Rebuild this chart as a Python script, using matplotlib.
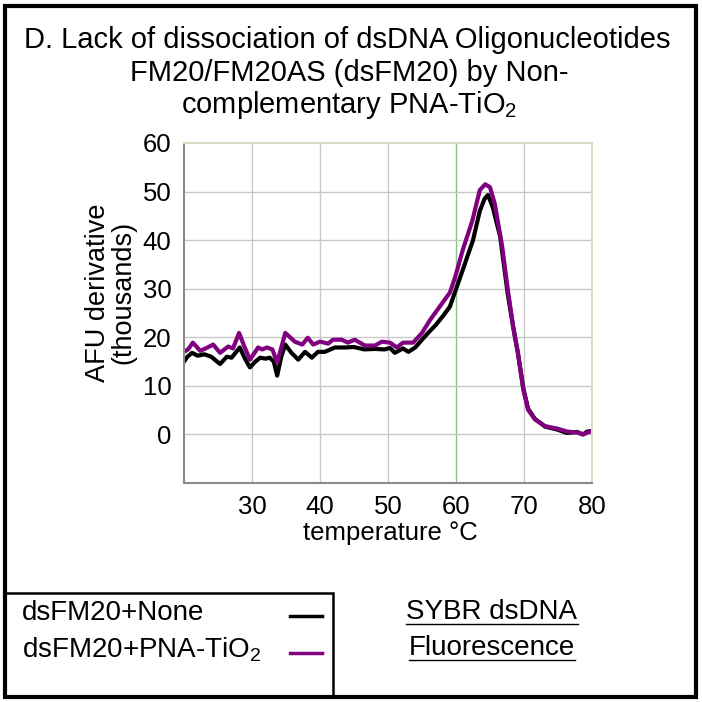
import matplotlib
matplotlib.use('Agg')
import matplotlib.pyplot as plt
from matplotlib.lines import Line2D
from matplotlib.patches import Rectangle

plt.rcParams['font.family'] = ['Liberation Sans', 'DejaVu Sans']
plt.rcParams['mathtext.fontset'] = 'custom'
plt.rcParams['mathtext.rm'] = 'Liberation Sans'
plt.rcParams['mathtext.it'] = 'Liberation Sans:italic'

# dsFM20 + None (black)
temp_none = [20.0, 20.5, 21.2, 22.0, 23.0, 24.0, 25.3, 26.3, 27.0, 28.2, 29.0, 29.7,
             30.5, 31.2, 32.0, 32.6, 33.2, 33.7, 34.3, 34.9, 35.8, 36.8, 37.8, 38.8,
             39.7, 40.7, 42.2, 43.7, 45.0, 46.5, 48.0, 49.5, 50.3, 51.0, 52.2, 53.0,
             54.0, 55.0, 55.9, 57.0, 58.1, 59.1, 59.9, 61.0, 62.5, 63.5, 64.2, 64.7,
             65.4, 66.5, 67.6, 68.4, 69.1, 69.9, 70.6, 71.6, 73.1, 74.9, 76.3, 77.8,
             78.7, 79.3, 80.0]
afu_none = [15.0, 16.0, 16.8, 16.2, 16.5, 16.0, 14.5, 16.0, 15.8, 17.9, 15.5, 13.8,
            15.0, 15.8, 15.6, 15.8, 15.0, 12.1, 16.0, 18.5, 16.8, 15.4, 17.0, 15.8,
            17.0, 17.0, 17.9, 17.9, 18.0, 17.5, 17.6, 17.5, 17.8, 16.8, 17.7, 17.0,
            17.9, 19.5, 20.9, 22.5, 24.4, 26.3, 29.5, 33.9, 40.0, 46.0, 48.5, 49.3,
            46.8, 40.7, 29.0, 22.2, 16.8, 9.5, 5.3, 3.2, 1.6, 1.0, 0.3, 0.5,
            0.0, 0.6, 0.7]

# dsFM20 + PNA-TiO2 (purple)
temp_pna = [20.0, 20.6, 21.3, 22.4, 23.3, 24.3, 25.3, 26.5, 27.2, 28.1, 28.9, 29.7,
            30.9, 31.5, 32.2, 33.0, 33.7, 34.9, 36.3, 37.4, 38.2, 39.0, 40.0, 41.2,
            41.9, 43.2, 44.1, 45.1, 46.6, 48.1, 49.1, 50.3, 51.3, 52.2, 53.7, 55.0,
            56.2, 57.6, 59.1, 59.9, 61.0, 62.4, 63.5, 64.3, 65.0, 65.7, 66.8, 67.6,
            68.4, 69.1, 69.9, 70.6, 71.6, 73.1, 74.9, 76.3, 77.8, 78.7, 79.7, 80.0]
afu_pna = [17.0, 17.5, 18.9, 17.2, 17.8, 18.5, 16.8, 18.1, 17.7, 20.9, 18.0, 15.4,
           17.9, 17.5, 17.9, 17.5, 14.8, 20.9, 19.1, 18.5, 19.9, 18.5, 19.1, 18.7,
           19.5, 19.5, 18.9, 19.5, 18.3, 18.3, 19.1, 18.9, 17.9, 18.9, 18.9, 20.9,
           23.6, 26.3, 29.2, 32.5, 38.0, 44.0, 50.3, 51.5, 50.9, 47.5, 38.6, 30.0,
           22.2, 16.8, 9.2, 5.1, 3.1, 1.7, 1.2, 0.6, 0.4, 0.0, 0.6, 0.5]

labels = ['dsFM20+None', 'dsFM20+PNA-TiO$_2$']
colors = ['black', '#800080']

fig = plt.figure(figsize=(7.02, 7.02), dpi=100)
ax = fig.add_axes([184 / 702, 1 - 483 / 702, 408 / 702, 340 / 702])

ax.plot(temp_none, afu_none, color=colors[0], lw=3, solid_joinstyle='round')
ax.plot(temp_pna, afu_pna, color=colors[1], lw=3, solid_joinstyle='round')

ax.set_xlim(20, 80)
ax.set_ylim(-10, 60)
ax.set_xticks([30, 40, 50, 60, 70, 80])
ax.set_yticks([0, 10, 20, 30, 40, 50, 60])
ax.tick_params(length=0, labelsize=18.5)
ax.tick_params(axis='y', pad=9)
ax.tick_params(axis='x', pad=9)

# grid
for x in [30, 40, 50, 70]:
    ax.axvline(x, color='#c8c8c8', lw=1, zorder=0)
ax.axvline(60, color='#8cc08c', lw=1, zorder=0)
for y in [0, 10, 20, 30, 40, 50]:
    ax.axhline(y, color='#c8c8c8', lw=1, zorder=0)

ax.spines['left'].set_color('#8a8a8a')
ax.spines['bottom'].set_color('#8a8a8a')
ax.spines['left'].set_linewidth(1.5)
ax.spines['bottom'].set_linewidth(1.5)
ax.spines['top'].set_color('#dcd8c4')
ax.spines['right'].set_color('#dcd8c4')
ax.spines['top'].set_linewidth(1.5)
ax.spines['right'].set_linewidth(1.5)

ax.set_ylabel('AFU derivative\n(thousands)', fontsize=19.5, va='center', linespacing=1.0)
ax.yaxis.set_label_coords(-0.18, 0.56)
ax.set_xlabel('temperature °C', fontsize=18.5, va='center')
ax.xaxis.set_label_coords(0.505, -0.148)

# title
fig.text(0.495, 1 - 40 / 702, 'D. Lack of dissociation of dsDNA Oligonucleotides',
         ha='center', va='center', fontsize=21)
fig.text(0.498, 1 - 73 / 702, 'FM20/FM20AS (dsFM20) by Non-',
         ha='center', va='center', fontsize=21)
fig.text(0.498, 1 - 105 / 702, 'complementary PNA-TiO$_2$',
         ha='center', va='center', fontsize=21)

# outer frame
fig.add_artist(Rectangle((5 / 702, 5 / 702), 691 / 702, 691 / 702, transform=fig.transFigure,
                         fill=False, edgecolor='black', lw=3))

# legend box
fig.add_artist(Rectangle((5 / 702, 5 / 702), 328 / 702, 104 / 702, transform=fig.transFigure,
                         fill=False, edgecolor='black', lw=1.8))
for i, (lab, c) in enumerate(zip(labels, colors)):
    yc = 1 - (613 + 37 * i) / 702
    fig.text(22 / 702, yc, lab, ha='left', va='center', fontsize=20)
    fig.add_artist(Line2D([290 / 702, 322 / 702], [yc - 3 / 702, yc - 3 / 702],
                          transform=fig.transFigure, color=c, lw=2.5))

# underlined note
notes = []
for i, s in enumerate(['SYBR dsDNA', 'Fluorescence']):
    notes.append(fig.text(492 / 702, 1 - (612 + 36 * i) / 702, s, ha='center', va='center',
                          fontsize=20))
fig.canvas.draw()
r = fig.canvas.get_renderer()
for t in notes:
    bb = t.get_window_extent(r).transformed(fig.transFigure.inverted())
    fig.add_artist(Line2D([bb.x0, bb.x1], [bb.y0 + 0.002, bb.y0 + 0.002],
                          transform=fig.transFigure, color='black', lw=1))

fig.savefig('out.png', dpi=100)
